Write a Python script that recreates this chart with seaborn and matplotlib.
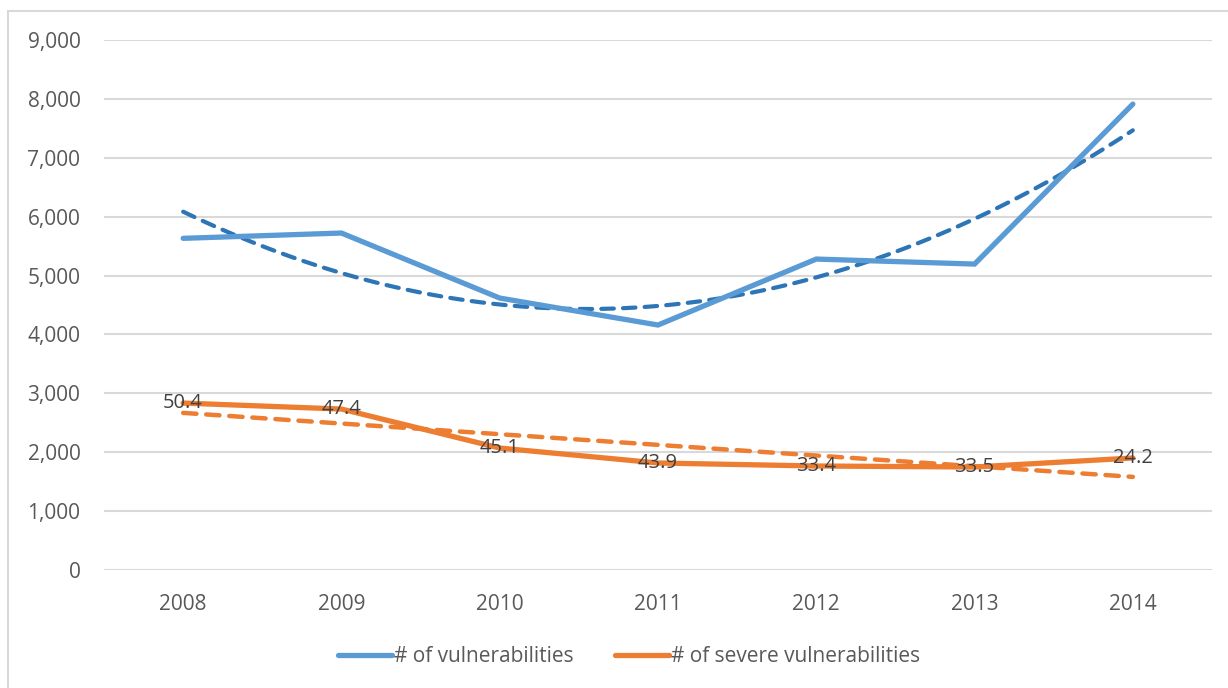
import numpy as np
import pandas as pd
import matplotlib
matplotlib.use("Agg")
import matplotlib.pyplot as plt
from matplotlib.lines import Line2D
import seaborn as sns

years = [2008, 2009, 2010, 2011, 2012, 2013, 2014]
vulns = [5632, 5722, 4618, 4160, 5280, 5195, 7912]
severe = [2835, 2733, 2071, 1817, 1766, 1749, 1902]
severe_labels = ["50.4", "47.4", "45.1", "43.9", "33.4", "33.5", "24.2"]

series_names = ["# of vulnerabilities", "# of severe vulnerabilities"]

BLUE = "#5B9BD5"
BLUE_TREND = "#2E75B6"
ORANGE = "#ED7D31"
GRID = "#D9D9D9"
TEXT = "#595959"
LABEL = "#404040"

df = pd.DataFrame({
    "year": years * 2,
    "count": vulns + severe,
    "series": [series_names[0]] * len(years) + [series_names[1]] * len(years),
})

sns.set_theme(style="white")
plt.rcParams["font.family"] = ["Open Sans", "DejaVu Sans"]

fig = plt.figure(figsize=(12.28, 6.88), dpi=100)
ax = fig.add_axes([104 / 1228, 1 - 570 / 688, (1212 - 104) / 1228, (570 - 40) / 688])

# trendlines: quadratic for all vulnerabilities, linear for severe ones
sns.regplot(x=years, y=vulns, order=2, scatter=False, ci=None, ax=ax,
            line_kws=dict(color=BLUE_TREND, lw=3.0, dashes=(3, 2.2),
                          dash_capstyle="round", zorder=2))
sns.regplot(x=years, y=severe, order=1, scatter=False, ci=None, ax=ax,
            line_kws=dict(color=ORANGE, lw=3.2, dashes=(3, 2.2),
                          dash_capstyle="round", zorder=2))

sns.lineplot(data=df, x="year", y="count", hue="series",
             palette=[BLUE, ORANGE], linewidth=3.8, ax=ax, zorder=3,
             legend=False, solid_capstyle="round", solid_joinstyle="miter")

for x, y, t in zip(years, severe, severe_labels):
    ax.text(x, y, t, ha="center", va="center", fontsize=14.5, color=LABEL, zorder=4)

ax.set_xlim(2007.5, 2014.5)
ax.set_ylim(0, 9000)
ax.set_yticks(np.arange(0, 9001, 1000))
ax.set_yticklabels([f"{v:,}" for v in range(0, 9001, 1000)])
ax.set_xticks(years)
ax.set_xticklabels([str(y) for y in years])
ax.set_xlabel("")
ax.set_ylabel("")
ax.yaxis.grid(True, color=GRID, lw=1.5)
ax.set_axisbelow(True)
for s in ax.spines.values():
    s.set_visible(False)
ax.tick_params(axis="both", length=0, labelsize=15, labelcolor=TEXT)
ax.tick_params(axis="y", pad=17)
ax.tick_params(axis="x", pad=17)

handles = [Line2D([], [], color=BLUE, lw=3.8, solid_capstyle="round"),
           Line2D([], [], color=ORANGE, lw=3.8, solid_capstyle="round")]
fig.legend(handles, series_names, loc="center", bbox_to_anchor=(629 / 1228, 1 - 657 / 688),
           ncol=2, frameon=False, fontsize=15, labelcolor=TEXT,
           handlelength=2.6, handletextpad=0.1, columnspacing=2.0)

# chart area border
fig.add_artist(Line2D([8 / 1228, 1.0], [1 - 11 / 688] * 2, color=GRID, lw=1.5))
fig.add_artist(Line2D([8 / 1228] * 2, [0, 1 - 11 / 688], color=GRID, lw=1.5))

fig.savefig("out.png", dpi=100, facecolor="white")
